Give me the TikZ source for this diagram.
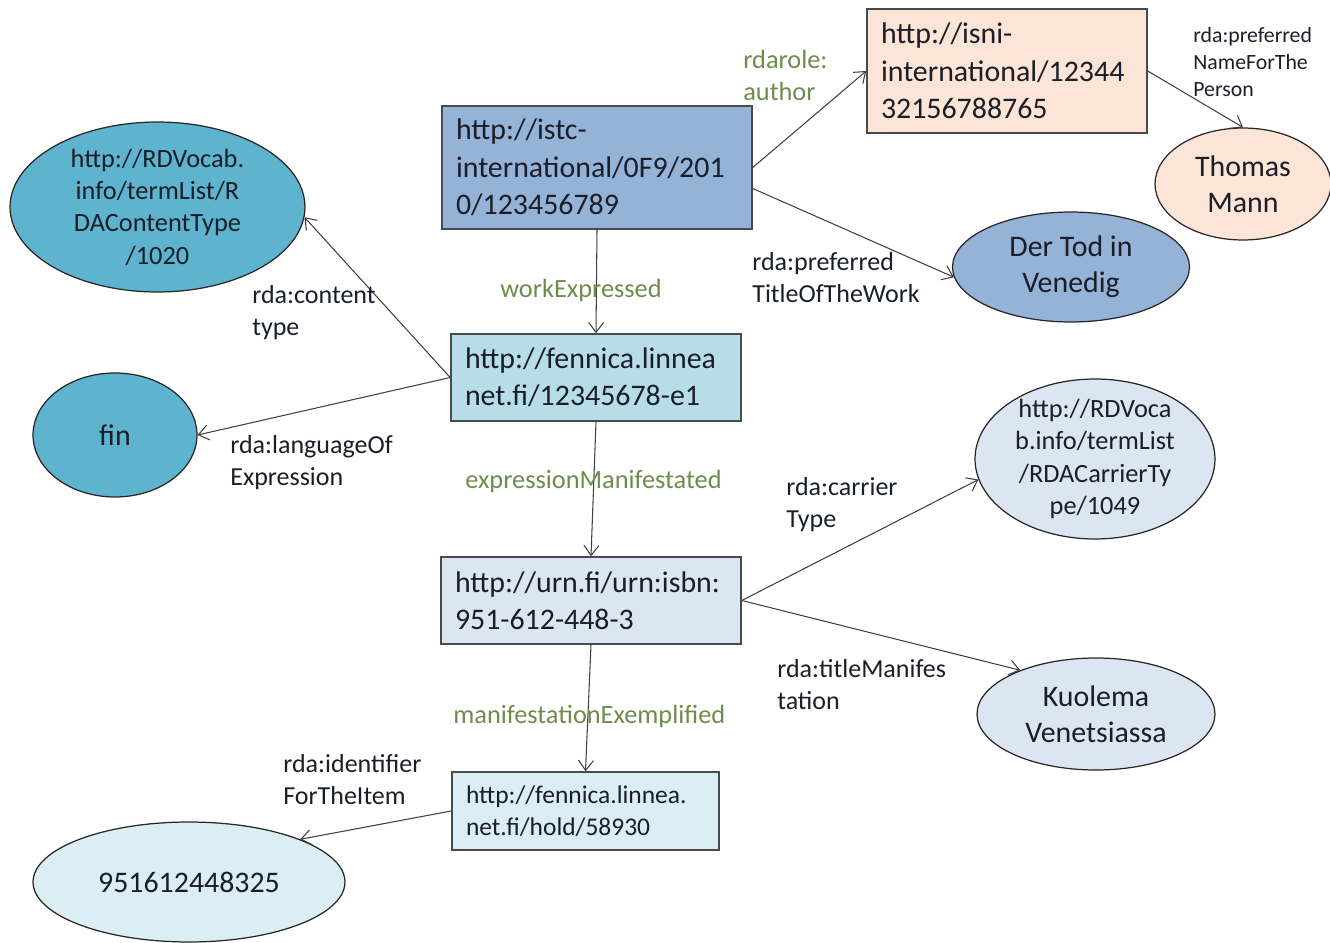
\documentclass[tikz,border=0pt]{standalone}
\usepackage{fontspec}
\setmainfont{Carlito}
\usepackage{xcolor}
\usetikzlibrary{shapes,arrows.meta,positioning}
\definecolor{workblue}{RGB}{149,179,215}
\definecolor{peach}{RGB}{252,228,214}
\definecolor{teal}{RGB}{94,179,206}
\definecolor{exprcyan}{RGB}{183,222,232}
\definecolor{urnblue}{RGB}{220,230,242}
\definecolor{holdcyan}{RGB}{218,238,243}
\definecolor{linkgreen}{RGB}{110,140,75}
\definecolor{ink}{RGB}{25,30,40}
\definecolor{boxline}{RGB}{70,75,80}
\hyphenpenalty=10000
\exhyphenpenalty=10000

\begin{document}
\begin{tikzpicture}[x=0.02cm, y=-0.02cm,
    uri/.style={draw=boxline, line width=0.9pt, rectangle, align=left, inner xsep=0.28cm, inner ysep=0pt, text=ink, font=\fontsize{17}{21.3}\selectfont},
    lit/.style={draw=black!85, line width=0.7pt, ellipse, align=center, inner sep=0pt, text=ink, font=\fontsize{17}{20.5}\selectfont},
    rel/.style={draw=black!75, line width=0.6pt, -{Straight Barb[length=2mm,width=3mm]}},
    prop/.style={anchor=north west, inner sep=0pt, align=left, text=ink, font=\fontsize{14.8}{18}\selectfont},
    link/.style={prop, text=linkgreen, font=\fontsize{15}{18}\selectfont}
]
    \useasboundingbox (0,0) rectangle (1330,943);

    % Work, expression, manifestation, item
    \node [uri, fill=workblue, text width=5.64cm, minimum height=2.46cm] (work) at (597,167.5) {http://istc-\\international/0F9/201\\0/123456789};
    \node [uri, fill=peach, text width=5.04cm, minimum height=2.48cm] (isni) at (1007,71) {http://isni-\\international/12344\\32156788765};
    \node [uri, fill=exprcyan, text width=5.24cm, minimum height=1.74cm] (expr) at (596,377.5) {http://fennica.linnea\\net.fi/12345678-e1};
    \node [uri, fill=urnblue, text width=5.44cm, minimum height=1.74cm] (manif) at (591,600.5) {http://urn.fi/urn:isbn:\\951-612-448-3};
    \node [uri, fill=holdcyan, text width=4.78cm, minimum height=1.56cm, font=\fontsize{14.5}{18.2}\selectfont] (item) at (585.5,811) {http://fennica.linnea.\\net.fi/hold/58930};

    % Literals and vocabulary terms
    \node [lit, fill=peach, minimum width=3.52cm, minimum height=2.24cm] (thomas) at (1243,184) {Thomas\\Mann};
    \node [lit, fill=workblue, minimum width=4.74cm, minimum height=2.2cm] (dertod) at (1071,267) {Der Tod in\\Venedig};
    \node [lit, fill=teal, minimum width=5.9cm, minimum height=3.4cm, inner ysep=-0.2cm, font=\fontsize{15}{18.4}\selectfont] (ctype) at (157.5,207) {http://RDVocab.\\info/termList/R\\DAContentType\\/1020};
    \node [lit, fill=teal, minimum width=3.28cm, minimum height=2.48cm] (fin) at (115,435) {fin};
    \node [lit, fill=urnblue, minimum width=4.8cm, minimum height=3.2cm, inner ysep=-0.2cm, font=\fontsize{15}{18.4}\selectfont] (carrier) at (1095,459) {http://RDVoca\\b.info/termList\\/RDACarrierTy\\pe/1049};
    \node [lit, fill=urnblue, minimum width=4.76cm, minimum height=2.24cm] (kuolema) at (1096,714) {Kuolema\\Venetsiassa};
    \node [lit, fill=holdcyan, minimum width=6.24cm, minimum height=2.4cm] (ident) at (189,882) {951612448325};

    % Properties
    \foreach \from/\to in {work.east/isni.west, isni.east/thomas.north, work.south/expr.north,
        expr.west/ctype.-4, expr.west/fin.east, expr.south/manif.north, manif.east/carrier.190,
        manif.east/kuolema.150, manif.south/item.north, item.west/ident.21}
        \draw [rel] (\from) -- (\to);
    \draw [rel] ([yshift=-0.42cm]work.east) -- (dertod.185);

    % Property labels
    \node [link] (lauthor) at (743,50) {rdarole:\\author};
    \node [prop, font=\fontsize{12.4}{15.4}\selectfont] (lname) at (1193,27) {rda:preferred\\NameForThe\\Person};
    \node [prop] (ltitle) at (752,252) {rda:preferred\\TitleOfTheWork};
    \node [link] (lwork) at (500,279) {workExpressed};
    \node [prop] (lctype) at (252,285) {rda:content\\type};
    \node [prop] (llang) at (230,435) {rda:languageOf\\Expression};
    \node [link] (lexpr) at (465,470) {expressionManifestated};
    \node [prop] (lcarrier) at (786,477) {rda:carrier\\Type};
    \node [prop] (ltitlem) at (777,659) {rda:titleManifes\\tation};
    \node [link] (lexempl) at (453,705) {manifestationExemplified};
    \node [prop] (lident) at (283,754) {rda:identifier\\ForTheItem};
\end{tikzpicture}
\end{document}
